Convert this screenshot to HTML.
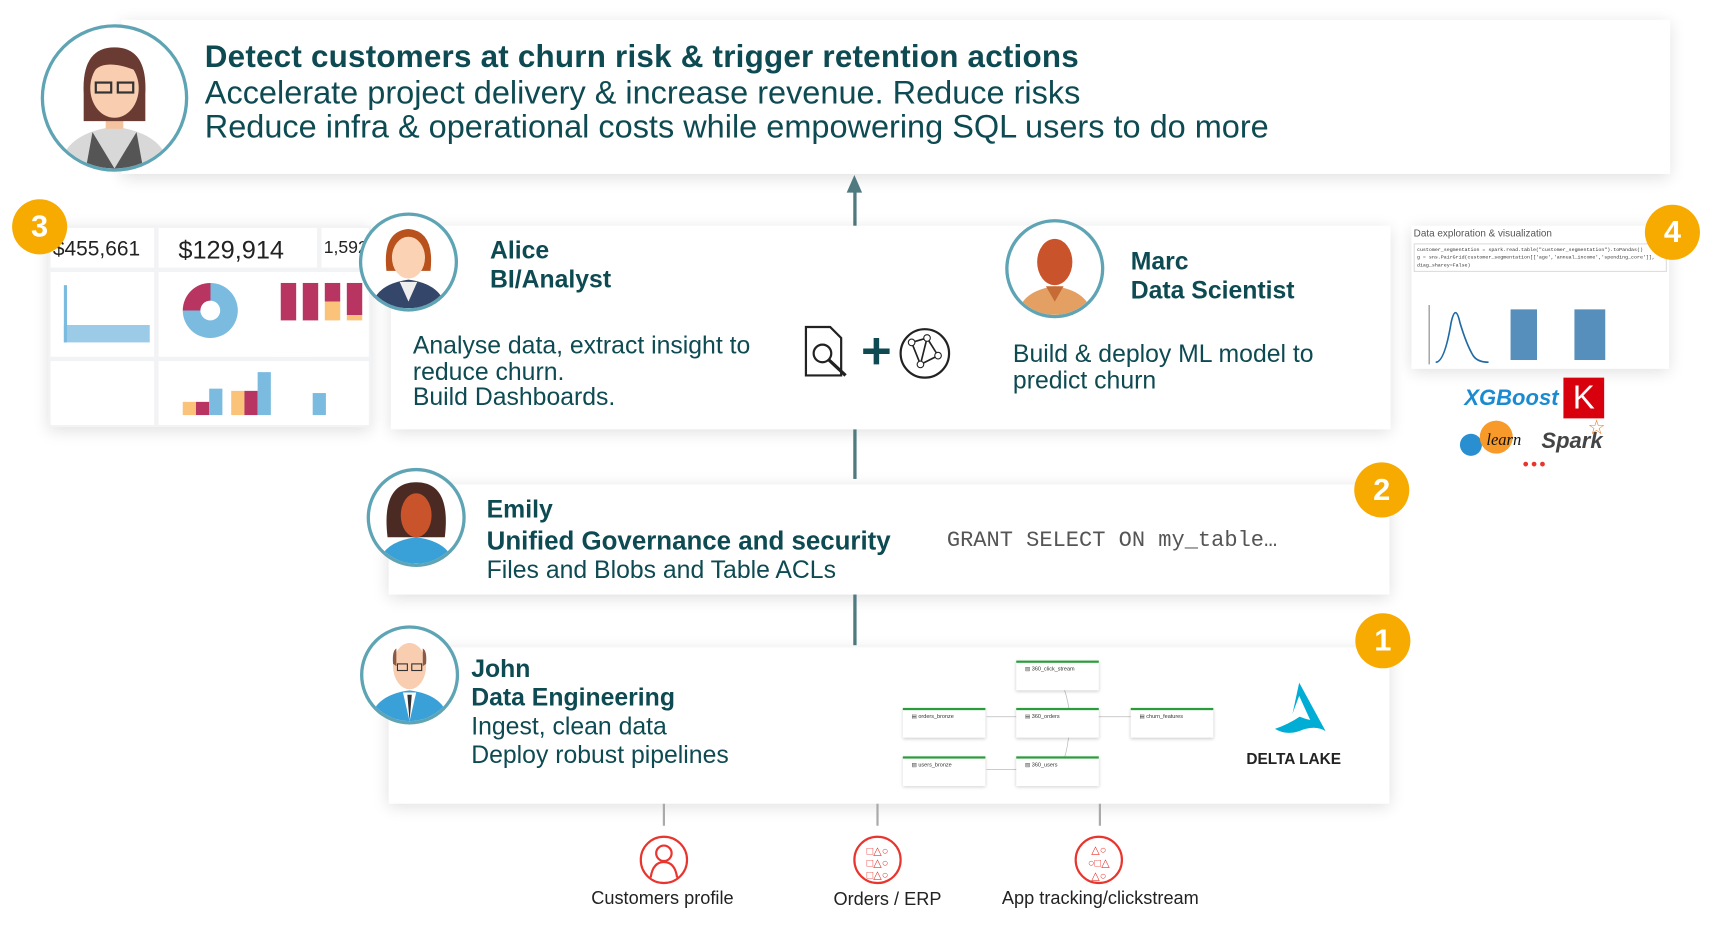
<!DOCTYPE html>
<html><head><meta charset="utf-8"><style>
html,body{margin:0;padding:0;background:#fff;overflow:hidden;width:1726px;height:930px}
#s{position:relative;width:1560px;height:841px;transform:scale(1.101,1.101);transform-origin:0 0;font-family:"Liberation Sans",sans-serif;color:#0d4a52}
.a{position:absolute}
.box{position:absolute;background:#fff;box-shadow:0 3px 14px rgba(0,0,0,.13)}
.t{position:absolute;white-space:nowrap}
.av{position:absolute;border-radius:50%;border:3px solid #5fa4b4;background:#fff;overflow:hidden;box-sizing:border-box}
.badge{position:absolute;width:50px;height:50px;border-radius:50%;background:#f7aa00;color:#fff;font-size:28px;font-weight:bold;text-align:center;line-height:50px}
.ln{position:absolute;width:3px;background:#4e7a80}
.gl{position:absolute;width:2px;background:#aaa}
.node{position:absolute;width:75px;height:27px;background:#fff;border-top:2px solid #2a9c3c;box-shadow:0 1px 3px rgba(0,0,0,.2);font-size:5px;color:#333;padding:3px 0 0 8px;box-sizing:border-box}
.ric{position:absolute;width:44px;height:44px;border-radius:50%;border:2px solid #e8352e;box-sizing:border-box;color:#e8352e;text-align:center;font-size:14px;line-height:40px}
.lab{position:absolute;font-size:16.5px;color:#222;white-space:nowrap}
.nm{font-size:22.5px;font-weight:bold}
.pp{font-size:22.5px}
</style></head><body><div id="s">

<div class="box" style="left:110px;top:18px;width:1407px;height:140px"></div>
<div class="av" style="left:37px;top:22px;width:134px;height:134px">
<svg width="128" height="128" viewBox="0 0 128 128"><path d="M14 128 Q18 96 64 90 Q110 96 114 128Z" fill="#d8d8d8"/><path d="M44 95 L64 128 L84 95 L90 128 H38Z" fill="#555"/><rect x="56" y="70" width="16" height="22" fill="#f4c3a0"/><path d="M36 60 Q34 18 64 18 Q94 18 92 60 L92 85 L36 85Z" fill="#6a3b32"/><ellipse cx="64" cy="55" rx="22" ry="27" fill="#f8cdb0"/><path d="M42 45 Q50 25 86 40 L86 30 Q64 14 42 30Z" fill="#6a3b32"/><rect x="47" y="50" width="14" height="9" fill="none" stroke="#333" stroke-width="2"/><rect x="67" y="50" width="14" height="9" fill="none" stroke="#333" stroke-width="2"/></svg></div>
<div class="t" style="left:186px;top:36px;font-size:28.5px;font-weight:bold;letter-spacing:0.2px">Detect customers at churn risk &amp; trigger retention actions</div>
<div class="t" style="left:186px;top:68px;font-size:29.5px">Accelerate project delivery &amp; increase revenue. Reduce risks</div>
<div class="t" style="left:186px;top:99px;font-size:29.5px">Reduce infra &amp; operational costs while empowering SQL users to do more</div>

<div class="ln" style="left:775px;top:170px;height:36px"></div>
<div class="a" style="left:769px;top:159px;width:0;height:0;border-left:7px solid transparent;border-right:7px solid transparent;border-bottom:16px solid #4e7a80"></div>

<!-- dashboard -->
<div class="box" style="left:44px;top:205px;width:293px;height:183px;background:#f2f3f4">
<div class="a" style="left:2px;top:2px;width:94px;height:36px;background:#fff"><div class="t" style="left:2px;top:9px;font-size:19px;color:#222">$455,661</div></div>
<div class="a" style="left:100px;top:2px;width:144px;height:36px;background:#fff"><div class="t" style="left:18px;top:7px;font-size:23px;color:#222">$129,914</div></div>
<div class="a" style="left:248px;top:2px;width:43px;height:36px;background:#fff;overflow:hidden"><div class="t" style="left:2px;top:10px;font-size:16px;color:#222">1,592</div></div>
<div class="a" style="left:2px;top:42px;width:94px;height:77px;background:#fff"><div class="a" style="left:12px;top:12px;width:78px;height:52px;background:linear-gradient(90deg,#7bbbe0 0 3px,transparent 3px) ,linear-gradient(#fff 0 70%,#9ccbe8 70%)"></div></div>
<div class="a" style="left:100px;top:42px;width:144px;height:77px;background:#fff"><div class="a" style="left:22px;top:10px;width:50px;height:50px;border-radius:50%;background:conic-gradient(#7bbbe0 0 75%,#b83561 75%)"></div><div class="a" style="left:38px;top:26px;width:18px;height:18px;border-radius:50%;background:#fff"></div></div>
<div class="a" style="left:199px;top:42px;width:92px;height:77px;background:#fff"><div class="a" style="left:12px;top:10px;width:14px;height:34px;background:#b83561"></div><div class="a" style="left:32px;top:10px;width:14px;height:34px;background:#b83561"></div><div class="a" style="left:52px;top:10px;width:14px;height:34px;background:linear-gradient(#b83561 50%,#fbc27a 50%)"></div><div class="a" style="left:72px;top:10px;width:14px;height:34px;background:linear-gradient(#b83561 85%,#fbc27a 85%)"></div></div>
<div class="a" style="left:2px;top:123px;width:94px;height:58px;background:#fff"></div>
<div class="a" style="left:100px;top:123px;width:191px;height:58px;background:#fff"><div class="a" style="left:22px;top:37px;width:12px;height:12px;background:#fbc27a"></div><div class="a" style="left:34px;top:37px;width:12px;height:12px;background:#b83561"></div><div class="a" style="left:46px;top:25px;width:12px;height:24px;background:#7bbbe0"></div><div class="a" style="left:66px;top:27px;width:12px;height:22px;background:#fbc27a"></div><div class="a" style="left:78px;top:27px;width:12px;height:22px;background:#b83561"></div><div class="a" style="left:90px;top:10px;width:12px;height:39px;background:#7bbbe0"></div><div class="a" style="left:140px;top:29px;width:12px;height:20px;background:#7bbbe0"></div></div>
</div>
<div class="badge" style="left:11px;top:181px">3</div>

<!-- Alice/Marc box -->
<div class="box" style="left:355px;top:205px;width:908px;height:185px"></div>
<div class="av" style="left:326px;top:193px;width:90px;height:90px"><svg width="84" height="84" viewBox="0 0 84 84"><path d="M22 50 Q18 14 42 12 Q66 14 62 50Z" fill="#b8511c"/><path d="M8 84 Q12 62 42 58 Q72 62 76 84Z" fill="#34476b"/><path d="M34 60 L42 78 L50 60Z" fill="#eee"/><ellipse cx="42" cy="38" rx="15" ry="19" fill="#fbd3b4"/></svg></div>
<div class="t nm" style="left:445px;top:215px">Alice</div>
<div class="t nm" style="left:445px;top:241px">BI/Analyst</div>
<div class="t pp" style="left:375px;top:302px;line-height:23.5px">Analyse data, extract insight to<br>reduce churn.<br>Build Dashboards.</div>
<svg class="a" style="left:728px;top:293px" width="140" height="54"><path d="M4 4 H26 L36 14 V48 H4Z" fill="none" stroke="#222" stroke-width="2"/><circle cx="19" cy="28" r="8" fill="none" stroke="#222" stroke-width="2"/><line x1="25" y1="34" x2="40" y2="48" stroke="#222" stroke-width="3"/><path d="M56 26 H80 M68 14 V38" stroke="#0d4a52" stroke-width="5"/><circle cx="112" cy="28" r="22" fill="none" stroke="#222" stroke-width="2"/><path d="M100 18 L114 14 L124 30 L108 38 L100 18 M114 14 L108 38" stroke="#222" stroke-width="1.5" fill="none"/><circle cx="100" cy="18" r="3" fill="#fff" stroke="#222"/><circle cx="114" cy="14" r="3" fill="#fff" stroke="#222"/><circle cx="124" cy="30" r="3" fill="#fff" stroke="#222"/><circle cx="108" cy="38" r="3" fill="#fff" stroke="#222"/></svg>
<div class="av" style="left:913px;top:199px;width:90px;height:90px"><svg width="84" height="84" viewBox="0 0 84 84"><path d="M8 84 Q12 62 42 58 Q72 62 76 84Z" fill="#e3a062"/><path d="M34 58 L42 72 L50 58Z" fill="#c66a36"/><ellipse cx="42" cy="36" rx="16" ry="21" fill="#c9542b"/></svg></div>
<div class="t nm" style="left:1027px;top:225px">Marc</div>
<div class="t nm" style="left:1027px;top:251px">Data Scientist</div>
<div class="t pp" style="left:920px;top:310px;line-height:23.5px">Build &amp; deploy ML model to<br>predict churn</div>

<!-- notebook -->
<div class="box" style="left:1282px;top:205px;width:234px;height:130px">
<div class="t" style="left:2px;top:2px;font-size:9px;color:#555">Data exploration &amp; visualization</div>
<div class="a" style="left:2px;top:16px;width:230px;height:26px;border:1px solid #ddd;font-family:'Liberation Mono',monospace;font-size:4.5px;color:#333;line-height:7px;padding:2px;box-sizing:border-box">customer_segmentation = spark.read.table("customer_segmentation").toPandas()<br>g = sns.PairGrid(customer_segmentation[['age','annual_income','spending_core']],<br>diag_sharey=False)</div>
<svg class="a" style="left:10px;top:68px" width="190" height="60"><path d="M12 56 Q20 56 26 20 Q30 2 34 20 Q40 40 46 50 Q50 56 60 56" fill="none" stroke="#1f6aa5" stroke-width="1.5"/><line x1="6" y1="4" x2="6" y2="58" stroke="#333" stroke-width=".6"/><g fill="#1f6aa5"><rect x="80" y="8" width="24" height="46" opacity=".75"/><rect x="138" y="8" width="28" height="46" opacity=".75"/></g></svg>
</div>
<div class="badge" style="left:1494px;top:186px">4</div>
<div class="t" style="left:1330px;top:351px;font-size:20px;font-weight:bold;font-style:italic;color:#1a8bd0">XGBoost</div>
<div class="a" style="left:1420px;top:343px;width:37px;height:37px;background:#d9000e;color:#fff;font-size:30px;text-align:center;line-height:37px">K</div>
<div class="a" style="left:1326px;top:394px;width:20px;height:20px;border-radius:50%;background:#2a8fd0"></div>
<div class="a" style="left:1344px;top:382px;width:30px;height:30px;border-radius:50%;background:#f89a2a"></div>
<div class="t" style="left:1350px;top:392px;font-size:15px;font-style:italic;color:#111;font-family:'Liberation Serif',serif">learn</div>
<div class="t" style="left:1400px;top:390px;font-size:20px;font-style:italic;font-weight:bold;color:#444">Spark</div>
<div class="t" style="left:1442px;top:378px;font-size:18px;color:#f07a1a">☆</div>
<div class="t" style="left:1383px;top:414px;font-size:16px;color:#e8352e;letter-spacing:2px">•••</div>

<div class="ln" style="left:775px;top:390px;height:45px"></div>

<!-- Emily -->
<div class="box" style="left:353px;top:440px;width:909px;height:100px"></div>
<div class="av" style="left:333px;top:425px;width:90px;height:90px"><svg width="84" height="84" viewBox="0 0 84 84"><path d="M16 60 Q10 10 42 10 Q74 10 68 60Z" fill="#4a2a22"/><path d="M8 84 Q12 64 42 60 Q72 64 76 84Z" fill="#3aa1d8"/><ellipse cx="42" cy="40" rx="14" ry="20" fill="#c9542b"/></svg></div>
<div class="t nm" style="left:442px;top:450px">Emily</div>
<div class="t nm" style="left:442px;top:478px;font-size:23.5px">Unified Governance and security</div>
<div class="t pp" style="left:442px;top:505px">Files and Blobs and Table ACLs</div>
<div class="t" style="left:860px;top:480px;font-size:20px;font-family:'Liberation Mono',monospace;color:#555">GRANT SELECT ON my_table…</div>
<div class="badge" style="left:1230px;top:420px">2</div>

<div class="ln" style="left:775px;top:540px;height:46px"></div>

<!-- John -->
<div class="box" style="left:353px;top:588px;width:909px;height:142px"></div>
<div class="av" style="left:327px;top:568px;width:90px;height:90px"><svg width="84" height="84" viewBox="0 0 84 84"><path d="M6 84 Q10 60 42 56 Q74 60 78 84Z" fill="#3aa1d8"/><path d="M36 58 L42 84 L48 58Z" fill="#fff"/><path d="M40 60 L42 84 L44 60Z" fill="#333"/><ellipse cx="42" cy="34" rx="15" ry="21" fill="#f8cdb0"/><path d="M27 32 Q26 20 30 18 L30 34Z M57 32 Q58 20 54 18 L54 34Z" fill="#8a5a44"/><rect x="31" y="32" width="9" height="6" fill="none" stroke="#333"/><rect x="44" y="32" width="9" height="6" fill="none" stroke="#333"/></svg></div>
<div class="t nm" style="left:428px;top:595px">John</div>
<div class="t nm" style="left:428px;top:621px">Data Engineering</div>
<div class="t pp" style="left:428px;top:647px">Ingest, clean data</div>
<div class="t pp" style="left:428px;top:673px">Deploy robust pipelines</div>
<div class="badge" style="left:1231px;top:557px">1</div>
<svg class="a" style="left:880px;top:600px" width="160" height="110"><g fill="none" stroke="#bbb" stroke-width=".7"><path d="M16 51 H44 M16 99 H44 M79 15 Q88 20 92 51 Q96 51 150 51 M79 51 H150 M79 99 Q90 95 92 51"/></g></svg>
<div class="node" style="left:923px;top:600px">▤ 360_click_stream</div>
<div class="node" style="left:820px;top:643px;width:75px">▤ orders_bronze</div>
<div class="node" style="left:923px;top:643px">▤ 360_orders</div>
<div class="node" style="left:1027px;top:643px">▤ churn_features</div>
<div class="node" style="left:820px;top:687px">▤ users_bronze</div>
<div class="node" style="left:923px;top:687px">▤ 360_users</div>
<svg class="a" style="left:1154px;top:618px" width="54" height="52"><path d="M26 2 L50 46 Q40 40 26 46 Q14 50 4 44 Q16 40 28 32 L20 30 Z" fill="#00add4"/><path d="M26 14 L36 36 Q28 34 20 30Z" fill="#fff"/></svg>
<div class="t" style="left:1132px;top:681px;font-size:14px;font-weight:bold;color:#222">DELTA LAKE</div>

<div class="gl" style="left:602px;top:730px;height:20px"></div>
<div class="gl" style="left:796px;top:730px;height:20px"></div>
<div class="gl" style="left:998px;top:730px;height:20px"></div>
<div class="ric" style="left:581px;top:759px"><svg width="40" height="40"><circle cx="20" cy="14" r="7" fill="none" stroke="#e8352e" stroke-width="2"/><path d="M8 36 Q10 22 20 22 Q30 22 32 36" fill="none" stroke="#e8352e" stroke-width="2"/></svg></div>
<div class="ric" style="left:775px;top:759px;font-size:10px;line-height:11px;padding-top:7px">□△○<br>□△○<br>□△○</div>
<div class="ric" style="left:976px;top:759px;font-size:10px;line-height:12px;padding-top:6px">△○<br>○□△<br>△○</div>
<div class="lab" style="left:537px;top:807px">Customers profile</div>
<div class="lab" style="left:757px;top:808px">Orders / ERP</div>
<div class="lab" style="left:910px;top:807px">App tracking/clickstream</div>
</div></body></html>
